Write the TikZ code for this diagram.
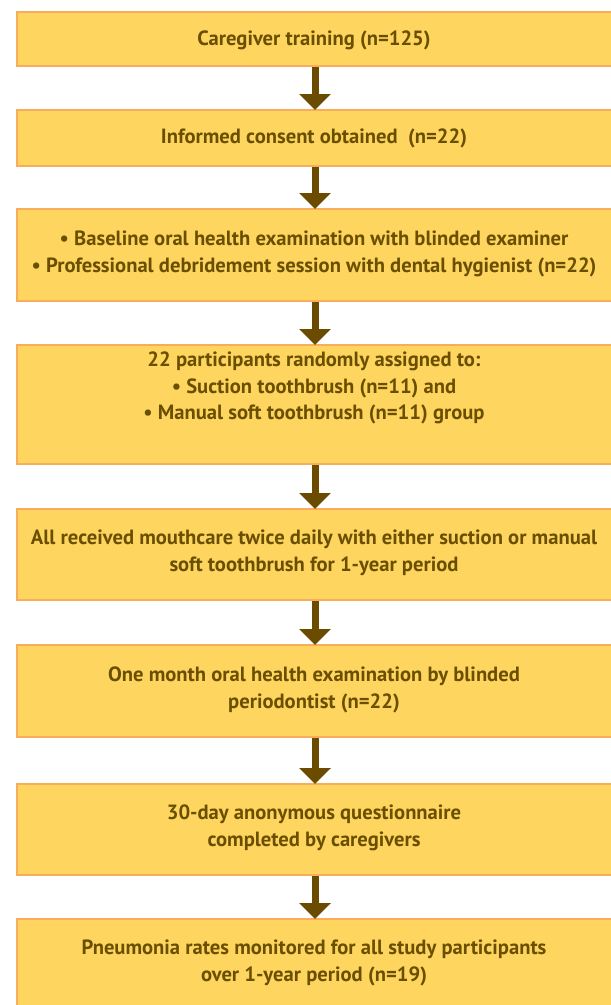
\documentclass[tikz,border=0pt]{standalone}
\usepackage{fontspec}
\setmainfont{PT Sans}
\usetikzlibrary{arrows.meta}
\definecolor{boxfill}{HTML}{FDD55F}
\definecolor{boxline}{HTML}{F9AC5B}
\definecolor{txtbrown}{HTML}{6B4F00}
\definecolor{arrbrown}{HTML}{6B4B00}
\tikzset{
  stagebox/.style={draw=boxline, fill=boxfill, line width=2pt, rectangle,
    minimum width=596pt, inner sep=0pt},
  stagetext/.style={text=txtbrown, align=center, inner sep=0pt,
    font=\fontsize{20.6pt}{26.8pt}\selectfont\bfseries},
  flowarrow/.style={draw=arrbrown, line width=7pt,
    -{Triangle[width=31pt,length=16pt]}, shorten >=-1pt}
}
\begin{document}
\begin{tikzpicture}[x=1pt,y=-1pt]
\useasboundingbox (0,0) rectangle (611,1005);
\node[stagebox, minimum height=54pt] (b1) at (315,39) {};
\node[stagebox, minimum height=56pt] (b2) at (315,138) {};
\node[stagebox, minimum height=92pt] (b3) at (315,255) {};
\node[stagebox, minimum height=119pt] (b4) at (315,404.5) {};
\node[stagebox, minimum height=91pt] (b5) at (315,554.5) {};
\node[stagebox, minimum height=92pt] (b6) at (315,691) {};
\node[stagebox, minimum height=91pt] (b7) at (315,829.5) {};
\node[stagebox, minimum height=94pt] (b8) at (315,966) {};

\node[stagetext] (t1) at (314,40) {Caregiver training (n=125)};
\node[stagetext] (t2) at (314,138) {Informed consent obtained\ \ (n=22)};
\node[stagetext] (t3) at (314,254) {• Baseline oral health examination with blinded examiner\\• Professional debridement session with dental hygienist (n=22)};
\node[stagetext] (t4) at (314,388) {22 participants randomly assigned to:\\• Suction toothbrush (n=11) and\\• Manual soft toothbrush (n=11) group};
\node[stagetext] (t5) at (314,553) {All received mouthcare twice daily with either suction or manual\\soft toothbrush for 1-year period};
\node[stagetext] (t6) at (314,690) {One month oral health examination by blinded\\periodontist (n=22)};
\node[stagetext] (t7) at (314,828) {30-day anonymous questionnaire\\completed by caregivers};
\node[stagetext] (t8) at (314,963) {Pneumonia rates monitored for all study participants\\over 1-year period (n=19)};

\draw[flowarrow] (b1.south) -- (b2.north);
\draw[flowarrow] (b2.south) -- (b3.north);
\draw[flowarrow] (b3.south) -- (b4.north);
\draw[flowarrow] (b4.south) -- (b5.north);
\draw[flowarrow] (b5.south) -- (b6.north);
\draw[flowarrow] (b6.south) -- (b7.north);
\draw[flowarrow] (b7.south) -- (b8.north);
\end{tikzpicture}
\end{document}
